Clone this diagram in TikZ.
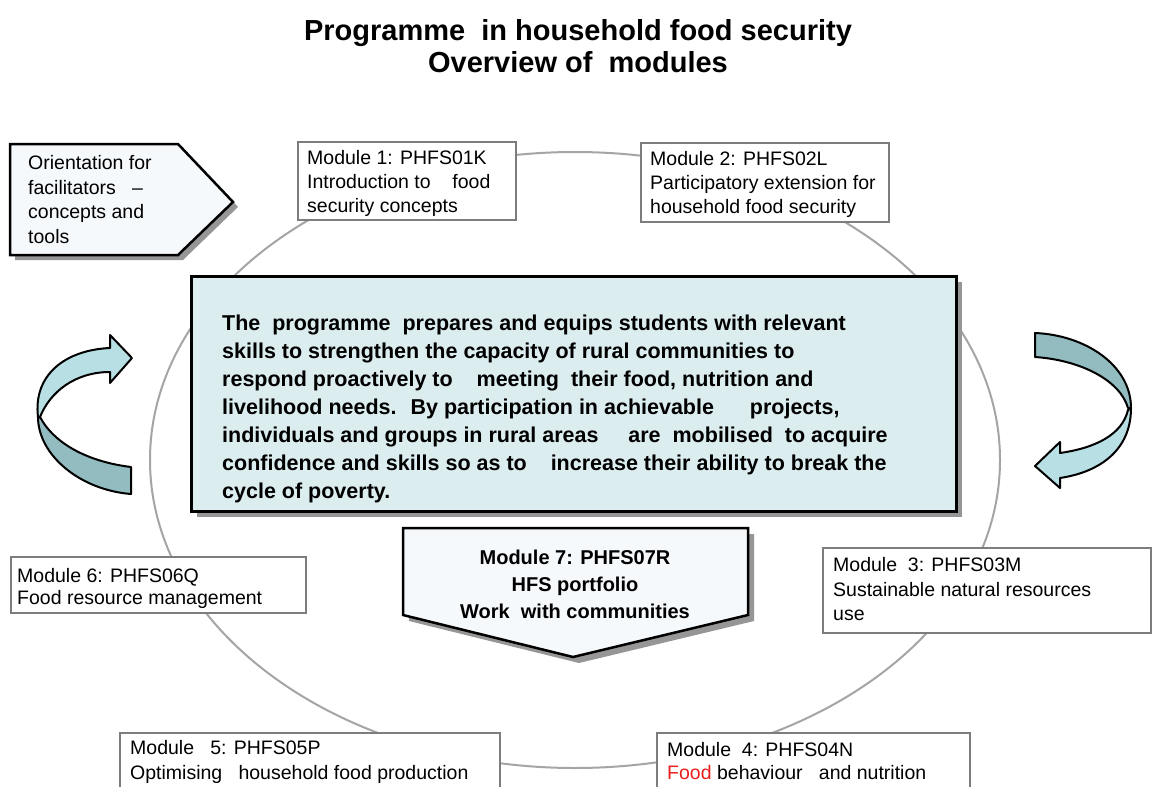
\documentclass[tikz,border=0pt]{standalone}
\usepackage{fontspec}
\setmainfont{Liberation Sans}
\definecolor{ellcol}{RGB}{165,165,165}
\definecolor{boxcol}{RGB}{125,125,125}
\definecolor{mainfill}{RGB}{220,237,240}
\definecolor{palefill}{RGB}{246,249,251}
\definecolor{arrlight}{RGB}{184,224,228}
\definecolor{arrdark}{RGB}{146,188,192}
\definecolor{shadowcol}{RGB}{150,150,150}
\definecolor{redtext}{RGB}{235,30,30}
\tikzset{
  modbox/.style={draw=boxcol, line width=2pt, fill=white},
  modtext/.style={anchor=north west, inner sep=0pt, align=left, font=\fontsize{19.5}{24}\selectfont},
  shapebox/.style={draw=black, line width=2.5pt, fill=palefill, line join=miter},
  shadowfill/.style={fill=shadowcol},
  ribbon/.style={draw=black, line width=2pt, line join=round},
}
\begin{document}
\begin{tikzpicture}[x=1pt,y=-1pt]
\path[use as bounding box, fill=white] (0,0) rectangle (1156,787);

% title
\node[font=\bfseries\fontsize{29}{32}\selectfont, align=center] (title) at (578,46) {Programme \ in household food security\\Overview of \ modules};

% big ellipse
\draw[ellcol, line width=2pt] (575,460) ellipse [x radius=425, y radius=308];

% orientation arrow box
\fill[shadowfill] (15,149) -- (183,149) -- (238,207) -- (183,260) -- (15,260) -- cycle;
\draw[shapebox] (10,144) -- (178,144) -- (233,202) -- (178,255) -- (10,255) -- cycle;
\node[modtext, font=\fontsize{19.5}{24.5}\selectfont] (orient) at (28,155.5) {Orientation for\\facilitators \ \ --\\concepts and\\tools};

% module 1
\node[modbox, anchor=north west, minimum width=218pt, minimum height=78pt, inner sep=0pt] (m1) at (297,141) {};
\node[modtext] (m1t) at (307,150) {Module 1: PHFS01K\\Introduction to \ \ \ food\\security concepts};

% module 2
\node[modbox, anchor=north west, minimum width=248pt, minimum height=79pt, inner sep=0pt] (m2) at (640,142) {};
\node[modtext] (m2t) at (650,151) {Module 2: PHFS02L\\Participatory extension for\\household food security};

% main box
\fill[shadowfill] (197,282) rectangle (962,517);
\node[draw=black, line width=3pt, fill=mainfill, anchor=north west, minimum width=765pt, minimum height=235pt, inner sep=0pt] (main) at (190,275) {};
\node[anchor=north west, inner sep=0pt, align=left, font=\bfseries\fontsize{21.5}{28}\selectfont] (maint) at (222,315) {The \ programme \ prepares and equips students with relevant\\skills to strengthen the capacity of rural communities to\\respond proactively to \ \ \ meeting \ their food, nutrition and\\livelihood needs. \ By participation in achievable \ \ \ \ \ projects,\\individuals and groups in rural areas \ \ \ \ are \ mobilised \ to acquire\\confidence and skills so as to \ \ \ increase their ability to break the\\cycle of poverty.};

% left curved arrow
\draw[ribbon, fill=arrdark] (38,417) .. controls (38,455) and (80,490) .. (131,494) -- (131,467) .. controls (90,462) and (55,445) .. (40,417) -- cycle;
\draw[ribbon, fill=arrlight] (38,417) .. controls (33,375) and (65,350) .. (110,348) -- (110,335) -- (132,358) -- (110,383) -- (110,372) .. controls (75,372) and (50,392) .. (40,417) -- cycle;

% right curved arrow
\draw[ribbon, fill=arrdark] (1035,333) .. controls (1085,335) and (1131,365) .. (1131,408) -- (1128,408) .. controls (1120,380) and (1080,360) .. (1035,357) -- cycle;
\draw[ribbon, fill=arrlight] (1131,408) .. controls (1131,450) and (1100,472) .. (1060,478) -- (1060,488) -- (1035,466) -- (1060,442) -- (1060,453) .. controls (1095,448) and (1122,435) .. (1128,410) -- cycle;

% module 7
\fill[shadowfill] (409,534) -- (754,534) -- (754,621) -- (579,663) -- (409,621) -- cycle;
\draw[shapebox] (403,528) -- (748,528) -- (748,615) -- (573,657) -- (403,615) -- cycle;
\node[align=center, inner sep=0pt, font=\bfseries\fontsize{20}{27}\selectfont] (m7t) at (575,584) {Module 7: PHFS07R\\HFS portfolio\\Work \ with communities};

% module 6
\node[modbox, anchor=north west, minimum width=295pt, minimum height=56pt, inner sep=0pt] (m6) at (10,556) {};
\node[modtext, font=\fontsize{19.5}{21.5}\selectfont] (m6t) at (17,568.5) {Module 6: PHFS06Q\\Food resource management};

% module 3
\node[modbox, anchor=north west, minimum width=328pt, minimum height=85pt, inner sep=0pt] (m3) at (822,547) {};
\node[modtext, font=\fontsize{19.5}{24.5}\selectfont] (m3t) at (833,557.5) {Module \ 3: PHFS03M\\Sustainable natural resources\\use};

% module 5 (cut by bottom edge)
\fill[white] (120,733) rectangle (500,787);
\draw[boxcol, line width=2pt] (120,787) -- (120,733) -- (500,733) -- (500,787);
\coordinate (m5) at (120,733);
\node[modtext, font=\fontsize{19.5}{25}\selectfont] (m5t) at (130,740.5) {Module \ \ 5: PHFS05P\\Optimising \ \ household food production};

% module 4 (cut by bottom edge)
\fill[white] (657,733) rectangle (970,787);
\draw[boxcol, line width=2pt] (657,787) -- (657,733) -- (970,733) -- (970,787);
\coordinate (m4) at (657,733);
\node[modtext, font=\fontsize{19.5}{23}\selectfont] (m4t) at (667,742.5) {Module \ 4: PHFS04N\\\textcolor{redtext}{Food} behaviour \ \ and nutrition};
\end{tikzpicture}
\end{document}
